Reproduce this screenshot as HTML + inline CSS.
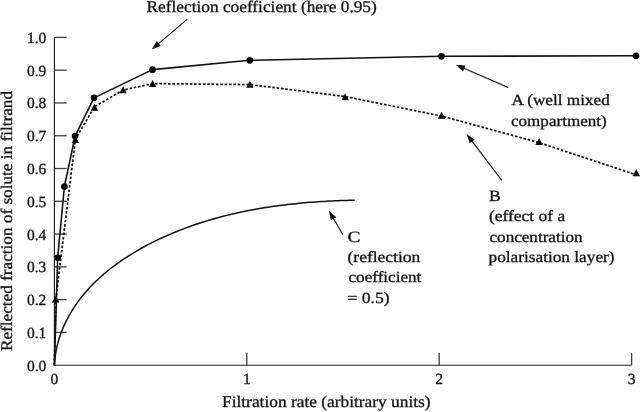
<!DOCTYPE html>
<html><head><meta charset="utf-8"><style>html,body{margin:0;padding:0;background:#fff;width:640px;height:412px;overflow:hidden}svg{display:block;filter:grayscale(1)}</style></head>
<body><svg width="640" height="412" viewBox="0 0 640 412">
<rect width="640" height="412" fill="#fff"/>
<g stroke="#444" stroke-width="1.35" fill="none">
<line x1="54.4" y1="332.42" x2="66.70" y2="332.42"/><line x1="54.4" y1="299.64" x2="66.70" y2="299.64"/><line x1="54.4" y1="266.86" x2="66.70" y2="266.86"/><line x1="54.4" y1="234.08" x2="66.70" y2="234.08"/><line x1="54.4" y1="201.30" x2="66.70" y2="201.30"/><line x1="54.4" y1="168.52" x2="66.70" y2="168.52"/><line x1="54.4" y1="135.74" x2="66.70" y2="135.74"/><line x1="54.4" y1="102.96" x2="66.70" y2="102.96"/><line x1="54.4" y1="70.18" x2="66.70" y2="70.18"/><line x1="54.4" y1="37.40" x2="66.70" y2="37.40"/><line x1="246.80" y1="365.2" x2="246.80" y2="352.90"/><line x1="439.20" y1="365.2" x2="439.20" y2="352.90"/><line x1="631.60" y1="365.2" x2="631.60" y2="352.90"/>
</g>
<path d="M54.4,37.4 L54.4,365.2 L631.6,365.2" stroke="#222" stroke-width="1.15" fill="none"/>
<g font-family="'Liberation Serif', serif" font-size="15.5" fill="#111" stroke="#111" stroke-width="0.3" text-rendering="geometricPrecision">
<text x="46.3" y="370.70" text-anchor="end">0.0</text><text x="46.3" y="337.92" text-anchor="end">0.1</text><text x="46.3" y="305.14" text-anchor="end">0.2</text><text x="46.3" y="272.36" text-anchor="end">0.3</text><text x="46.3" y="239.58" text-anchor="end">0.4</text><text x="46.3" y="206.80" text-anchor="end">0.5</text><text x="46.3" y="174.02" text-anchor="end">0.6</text><text x="46.3" y="141.24" text-anchor="end">0.7</text><text x="46.3" y="108.46" text-anchor="end">0.8</text><text x="46.3" y="75.68" text-anchor="end">0.9</text><text x="46.3" y="42.90" text-anchor="end">1.0</text>
<text x="54.40" y="383.5" text-anchor="middle">0</text><text x="246.80" y="383.5" text-anchor="middle">1</text><text x="439.20" y="383.5" text-anchor="middle">2</text><text x="631.60" y="383.5" text-anchor="middle">3</text>
</g>
<path d="M54.38,365.22 L54.57,362.32 L54.84,359.44 L55.19,356.59 L55.60,353.76 L56.09,350.95 L56.65,348.18 L57.28,345.42 L57.97,342.70 L58.74,340.00 L59.56,337.32 L60.45,334.67 L61.41,332.05 L62.42,329.46 L63.49,326.90 L64.62,324.36 L65.81,321.85 L67.05,319.37 L68.34,316.92 L69.69,314.50 L71.09,312.11 L72.54,309.75 L74.04,307.42 L75.58,305.12 L77.17,302.85 L78.80,300.61 L80.48,298.41 L82.19,296.24 L83.95,294.09 L85.75,291.98 L87.58,289.90 L89.45,287.85 L91.36,285.84 L93.31,283.85 L95.28,281.89 L97.30,279.97 L99.34,278.07 L101.42,276.20 L103.52,274.37 L105.66,272.56 L107.82,270.78 L110.01,269.03 L112.23,267.30 L114.48,265.61 L116.75,263.94 L119.04,262.30 L121.35,260.69 L123.69,259.11 L126.05,257.55 L128.43,256.02 L130.82,254.52 L133.24,253.04 L135.67,251.58 L138.12,250.16 L140.58,248.76 L143.06,247.38 L145.55,246.03 L148.05,244.71 L150.56,243.40 L153.09,242.13 L155.62,240.87 L158.16,239.64 L160.71,238.44 L163.27,237.26 L165.83,236.10 L168.41,234.96 L170.99,233.85 L173.58,232.76 L176.18,231.69 L178.78,230.64 L181.40,229.62 L184.02,228.62 L186.65,227.63 L189.28,226.68 L191.92,225.74 L194.57,224.82 L197.22,223.92 L199.89,223.05 L202.55,222.19 L205.23,221.35 L207.91,220.54 L210.59,219.74 L213.28,218.96 L215.98,218.20 L218.68,217.46 L221.39,216.74 L224.10,216.04 L226.82,215.36 L229.54,214.69 L232.27,214.05 L235.00,213.42 L237.74,212.81 L240.48,212.21 L243.22,211.63 L245.97,211.07 L248.73,210.53 L251.48,210.00 L254.24,209.49 L257.01,209.00 L259.77,208.52 L262.54,208.05 L265.32,207.61 L268.09,207.17 L270.87,206.76 L273.65,206.35 L276.44,205.97 L279.22,205.59 L282.01,205.23 L284.80,204.89 L287.59,204.56 L290.39,204.24 L293.18,203.93 L295.98,203.64 L298.78,203.36 L301.58,203.10 L304.38,202.84 L307.18,202.60 L309.98,202.37 L312.78,202.16 L315.58,201.95 L318.39,201.76 L321.19,201.57 L324.00,201.40 L326.80,201.24 L329.60,201.09 L332.40,200.95 L335.21,200.82 L338.01,200.71 L340.81,200.60 L343.61,200.50 L346.41,200.41 L349.21,200.32 L352.00,200.25 L354.80,200.19" fill="none" stroke="#111" stroke-width="1.5"/>
<polyline points="54.40,365.20 55.80,299.60 75.40,139.20 94.40,106.90 123.10,90.10 152.60,83.60 249.90,84.60 345.10,96.50 441.60,116.05 539.10,142.65 636.30,174.80" fill="none" stroke="#111" stroke-width="1.75" stroke-dasharray="2.5 1.85"/>
<polyline points="54.40,365.20 57.70,257.50 64.40,186.50 75.10,136.10 94.00,97.85 152.50,69.65 249.80,60.30 441.50,56.30 636.00,55.80" fill="none" stroke="#111" stroke-width="1.6" stroke-linejoin="round"/>
<g fill="#000">
<circle cx="57.7" cy="257.5" r="3.35"/><circle cx="64.4" cy="186.5" r="3.35"/><circle cx="75.1" cy="136.1" r="3.35"/><circle cx="94.0" cy="97.85" r="3.35"/><circle cx="152.5" cy="69.65" r="3.35"/><circle cx="249.8" cy="60.3" r="3.35"/><circle cx="441.5" cy="56.3" r="3.35"/><circle cx="636.0" cy="55.8" r="3.35"/>
<path d="M55.80,295.40 L59.50,302.40 L52.10,302.40 Z"/><path d="M75.40,136.00 L79.10,143.00 L71.70,143.00 Z"/><path d="M94.40,103.80 L98.10,110.80 L90.70,110.80 Z"/><path d="M123.10,86.30 L126.80,93.30 L119.40,93.30 Z"/><path d="M152.60,80.10 L156.30,87.10 L148.90,87.10 Z"/><path d="M249.90,80.70 L253.60,87.70 L246.20,87.70 Z"/><path d="M345.10,93.20 L348.80,100.20 L341.40,100.20 Z"/><path d="M441.60,111.80 L445.30,118.80 L437.90,118.80 Z"/><path d="M539.10,138.10 L542.80,145.10 L535.40,145.10 Z"/><path d="M636.30,169.30 L640.00,176.30 L632.60,176.30 Z"/>
</g>
<line x1="187.10" y1="19.40" x2="158.02" y2="44.12" stroke="#111" stroke-width="1.1"/><path d="M151.70,49.50 L156.74,41.08 L160.83,45.88 Z" fill="#111"/>
<line x1="508.20" y1="87.50" x2="463.32" y2="68.09" stroke="#111" stroke-width="1.1"/><path d="M455.70,64.80 L465.49,65.60 L462.99,71.38 Z" fill="#111"/>
<line x1="501.80" y1="180.30" x2="471.62" y2="140.61" stroke="#111" stroke-width="1.1"/><path d="M466.60,134.00 L474.74,139.50 L469.72,143.31 Z" fill="#111"/>
<line x1="342.80" y1="234.50" x2="333.09" y2="217.87" stroke="#111" stroke-width="1.1"/><path d="M328.90,210.70 L336.31,217.14 L330.87,220.32 Z" fill="#111"/>
<g font-family="'Liberation Serif', serif" fill="#111" stroke="#111" stroke-width="0.3" text-rendering="geometricPrecision">
<text x="146.50" y="11.8" font-size="16.3" textLength="230.29" lengthAdjust="spacingAndGlyphs">Reflection coefficient (here 0.95)</text><text x="222.00" y="407.4" font-size="16.3" textLength="208.57" lengthAdjust="spacingAndGlyphs">Filtration rate (arbitrary units)</text><text x="511.50" y="105.1" font-size="15.6" textLength="98.22" lengthAdjust="spacingAndGlyphs">A (well mixed</text><text x="511.00" y="125.7" font-size="15.6" textLength="95.67" lengthAdjust="spacingAndGlyphs">compartment)</text><text x="489.00" y="200.7" font-size="15.6" textLength="11.81" lengthAdjust="spacingAndGlyphs">B</text><text x="489.00" y="221.1" font-size="15.6" textLength="76.18" lengthAdjust="spacingAndGlyphs">(effect of a</text><text x="489.50" y="241.7" font-size="15.6" textLength="93.06" lengthAdjust="spacingAndGlyphs">concentration</text><text x="488.50" y="262.2" font-size="15.6" textLength="126.09" lengthAdjust="spacingAndGlyphs">polarisation layer)</text><text x="347.50" y="241.5" font-size="15.6" textLength="13.01" lengthAdjust="spacingAndGlyphs">C</text><text x="347.50" y="262.0" font-size="15.6" textLength="72.74" lengthAdjust="spacingAndGlyphs">(reflection</text><text x="348.50" y="282.3" font-size="15.6" textLength="72.85" lengthAdjust="spacingAndGlyphs">coefficient</text><text x="347.50" y="303.3" font-size="15.6" textLength="42.19" lengthAdjust="spacingAndGlyphs">= 0.5)</text>
<text transform="translate(12.4,351) rotate(-90)" font-size="16.3" textLength="260" lengthAdjust="spacingAndGlyphs">Reflected fraction of solute in filtrand</text>
</g>
</svg></body></html>
